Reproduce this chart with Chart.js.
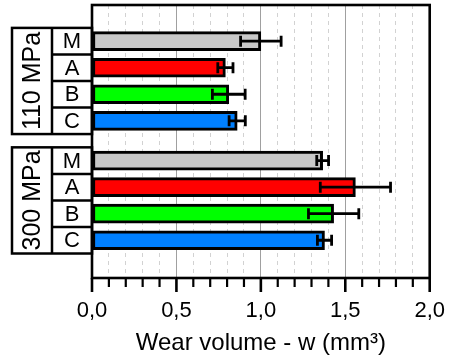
<!DOCTYPE html>
<html>
<head>
<meta charset="utf-8">
<script src="https://cdn.jsdelivr.net/npm/chart.js@4/dist/chart.umd.min.js"></script>
<style>
  html, body { margin: 0; padding: 0; background: #fff; }
  #wrap { width: 451px; height: 362px; }
</style>
</head>
<body>
<div id="wrap"><canvas id="c" width="451" height="362"></canvas></div>
<script>
// ---- data ----
const groups = ['110 MPa', '300 MPa'];
const materials = ['M', 'A', 'B', 'C'];
const colors = ['#c8c8c8', '#ff0000', '#00ff00', '#0080ff'];
const wear110 = [1.00, 0.79, 0.81, 0.86];
const err110 = [0.12, 0.045, 0.097, 0.048];
const wear300 = [1.366, 1.56, 1.431, 1.377];
const err300 = [0.035, 0.208, 0.149, 0.042];
const xTickValues = ['0,0', '0,5', '1,0', '1,5', '2,0'];
const xTitle = 'Wear volume - w (mm³)';

// ---- build ----
const FONT = "'Liberation Sans', Arial, sans-serif";
const groupGap = 4.5;           // index offset of the second group
const allValues = [wear110, wear300];
const allErrors = [err110, err300];
const rows = [];
groups.forEach((g, gi) => {
  materials.forEach((m, mi) => {
    rows.push({ group: gi, mat: mi, pos: gi * groupGap + mi,
                value: allValues[gi][mi], err: allErrors[gi][mi] });
  });
});

const isMajor = v => Math.abs(v * 2 - Math.round(v * 2)) < 1e-6;

const decor = {
  id: 'decor',
  afterDatasetsDraw(chart) {
    const ctx = chart.ctx;
    const xs = chart.scales.x, ys = chart.scales.y;
    const a = chart.chartArea;
    ctx.save();
    // error bars
    ctx.strokeStyle = '#000';
    ctx.lineWidth = 2.8;
    rows.forEach(r => {
      const y = ys.getPixelForValue(r.pos);
      const x1 = xs.getPixelForValue(r.value - r.err);
      const x2 = xs.getPixelForValue(r.value + r.err);
      ctx.beginPath();
      ctx.moveTo(x1, y); ctx.lineTo(x2, y);
      ctx.moveTo(x1, y - 5.5); ctx.lineTo(x1, y + 5.5);
      ctx.moveTo(x2, y - 5.5); ctx.lineTo(x2, y + 5.5);
      ctx.stroke();
    });
    // frame
    ctx.lineWidth = 2.6;
    ctx.strokeRect(a.left, a.top, a.right - a.left, a.bottom - a.top);
    // tick marks
    xs.ticks.forEach(t => {
      const x = xs.getPixelForValue(t.value);
      const major = isMajor(t.value);
      ctx.lineWidth = major ? 2.6 : 2.2;
      ctx.beginPath();
      ctx.moveTo(x, a.bottom);
      ctx.lineTo(x, a.bottom + (major ? 14 : 9));
      ctx.stroke();
    });
    // left label table
    const right = a.left, mid = a.left - 40, left = a.left - 80;
    ctx.lineWidth = 2.5;
    ctx.fillStyle = '#000';
    ctx.textAlign = 'center';
    ctx.textBaseline = 'middle';
    groups.forEach((g, gi) => {
      const gr = rows.filter(r => r.group === gi);
      const top = ys.getPixelForValue(gr[0].pos - 0.5);
      const bot = ys.getPixelForValue(gr[gr.length - 1].pos + 0.5);
      ctx.strokeRect(left, top, right - left, bot - top);
      ctx.beginPath();
      ctx.moveTo(mid, top); ctx.lineTo(mid, bot);
      gr.slice(1).forEach(r => {
        const yb = ys.getPixelForValue(r.pos - 0.5);
        ctx.moveTo(mid, yb); ctx.lineTo(right, yb);
      });
      ctx.stroke();
      ctx.font = '22px ' + FONT;
      gr.forEach(r => {
        ctx.fillText(materials[r.mat], (mid + right) / 2, ys.getPixelForValue(r.pos) + 1);
      });
      ctx.save();
      ctx.translate((left + mid) / 2 + 1, (top + bot) / 2);
      ctx.rotate(-Math.PI / 2);
      ctx.font = '25px ' + FONT;
      ctx.fillText(g, 0, 0);
      ctx.restore();
    });
    ctx.restore();
  }
};

new Chart(document.getElementById('c'), {
  type: 'bar',
  data: {
    datasets: [{
      data: rows.map(r => ({ x: r.value, y: r.pos })),
      backgroundColor: rows.map(r => colors[r.mat]),
      borderColor: '#000',
      borderWidth: 3,
      borderSkipped: false,
      barThickness: 19
    }]
  },
  options: {
    responsive: false,
    animation: false,
    indexAxis: 'y',
    layout: { padding: { left: 92, right: 19, top: 5, bottom: 0 } },
    plugins: { legend: { display: false }, tooltip: { enabled: false } },
    scales: {
      x: {
        type: 'linear', min: 0, max: 2, position: 'bottom',
        afterFit: s => { s.height = 84; },
        ticks: {
          stepSize: 0.1, autoSkip: false, maxRotation: 0, padding: 6, color: '#000',
          font: { family: FONT, size: 22 },
          callback: v => isMajor(v) ? xTickValues[Math.round(v * 2)] : ''
        },
        grid: {
          color: c => (c.tick && isMajor(c.tick.value)) ? '#a0a0a0' : '#d2d2d2',
          lineWidth: 1, drawTicks: true, tickLength: 14, tickColor: 'rgba(0,0,0,0)'
        },
        border: {
          display: false,
          dash: c => (c.tick && isMajor(c.tick.value)) ? [] : [4, 4]
        },
        title: {
          display: true, text: xTitle, color: '#000',
          font: { family: FONT, size: 24 }, padding: { top: 0, bottom: 4 }
        }
      },
      y: {
        type: 'linear', display: false, reverse: true, min: -0.72, max: 8.28,
        afterBuildTicks: s => { s.ticks = rows.map(r => ({ value: r.pos })); }
      }
    }
  },
  plugins: [decor]
});
</script>
</body>
</html>
